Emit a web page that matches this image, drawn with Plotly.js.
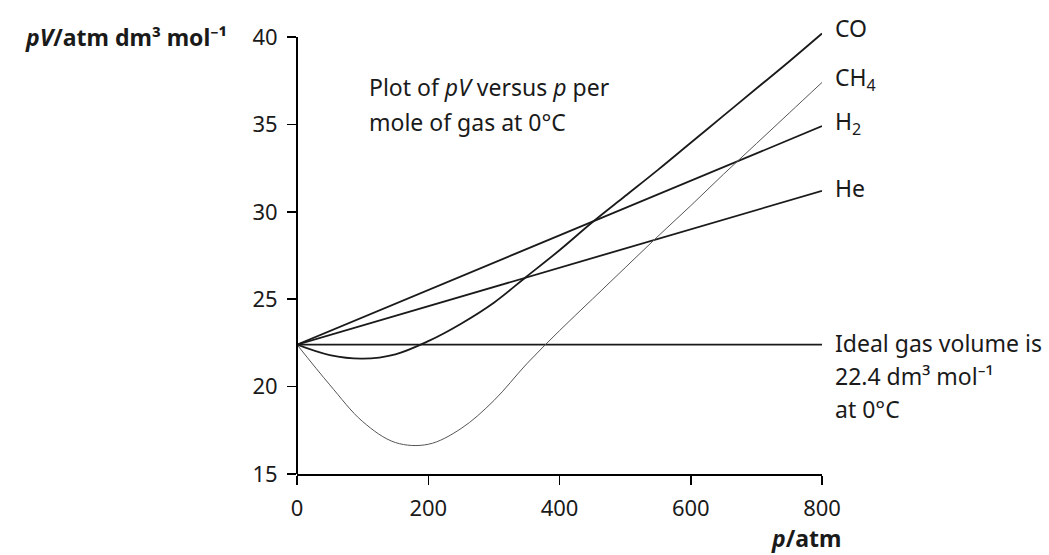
<!DOCTYPE html>
<html>
<head>
<meta charset="utf-8">
<script src="https://cdn.plot.ly/plotly-3.0.1.min.js"></script>
<style>
  html, body { margin: 0; padding: 0; background: #fff; }
  #chart { width: 1049px; height: 555px; }
</style>
</head>
<body>
<div id="chart"></div>
<script>
// Pressure (atm) and pV (atm dm3 mol-1) per mole of gas at 0 °C
const idealP = [0, 800];
const idealPV = [22.4, 22.4];

const heP = [0, 800];
const hePV = [22.4, 31.2];

const h2P = [0, 800];
const h2PV = [22.4, 34.9];

const coP  = [0, 50, 100, 150, 200, 250, 300, 350, 400, 450, 500, 550, 600, 650, 700, 750, 800];
const coPV = [22.4, 21.8, 21.6, 21.85, 22.6, 23.6, 24.8, 26.3, 27.8, 29.4, 30.9, 32.4, 33.95, 35.5, 37.05, 38.6, 40.2];

const ch4P  = [0, 50, 100, 150, 200, 250, 300, 350, 400, 450, 500, 550, 600, 650, 700, 750, 800];
const ch4PV = [22.4, 20.1, 18.0, 16.8, 16.7, 17.6, 19.2, 21.3, 23.2, 25.0, 26.8, 28.6, 30.35, 32.15, 33.9, 35.65, 37.4];

const xTicks = [0, 200, 400, 600, 800];
const yTicks = [15, 20, 25, 30, 35, 40];

const FONT = 'Noto Sans, Open Sans, DejaVu Sans, sans-serif';
const INK = '#1a1a1a';

// plot area geometry (px)
const PLOT_L = 297, PLOT_W = 525, PLOT_T = 30, PLOT_H = 444;

function curve(x, y, width, color, smooth) {
  return {
    x: x, y: y, type: 'scatter', mode: 'lines',
    line: { color: color, width: width, shape: smooth ? 'spline' : 'linear', smoothing: 1 },
    hoverinfo: 'skip', showlegend: false
  };
}

const traces = [
  curve(idealP, idealPV, 1.6, INK, false),
  curve(heP, hePV, 1.8, INK, false),
  curve(h2P, h2PV, 1.8, INK, false),
  curve(coP, coPV, 1.8, INK, true),
  curve(ch4P, ch4PV, 1.0, '#555', true)
];

// Labels at the end of each line
const endLabel = (text, y, yshift) => ({
  x: 800, y: y, xref: 'x', yref: 'y', text: text, showarrow: false,
  xanchor: 'left', yanchor: 'middle', xshift: 11, yshift: yshift,
  font: { family: FONT, size: 23, color: INK }
});

const note = (text, px, py, anchor) => ({
  x: (px - PLOT_L) / PLOT_W, y: 1 - (py - PLOT_T) / PLOT_H, xref: 'paper', yref: 'paper',
  text: text, showarrow: false, xanchor: anchor || 'left', yanchor: 'middle',
  font: { family: FONT, size: 23, color: INK }
});

const annotations = [
  endLabel('CO', coPV[coPV.length - 1], 6),
  endLabel('CH<sub>4</sub>', ch4PV[ch4PV.length - 1], 4),
  endLabel('H<sub>2</sub>', h2PV[h2PV.length - 1], 4),
  endLabel('He', hePV[hePV.length - 1], 3),
  endLabel('Ideal gas volume is', idealPV[1], 2),
  note('22.4 dm³ mol⁻¹', 833, 376),
  note('at 0°C', 833, 409),
  note('Plot of <i>pV</i> versus <i>p</i> per', 367, 87),
  note('mole of gas at 0°C', 367, 122),
  {
    x: (229 - PLOT_L) / PLOT_W, y: 1 - (37 - PLOT_T) / PLOT_H, xref: 'paper', yref: 'paper',
    text: '<b><i>pV</i>/atm dm³ mol⁻¹</b>', showarrow: false,
    xanchor: 'right', yanchor: 'middle',
    font: { family: FONT, size: 23, color: INK }
  },
  {
    x: (769 - PLOT_L) / PLOT_W, y: 0, xref: 'paper', yref: 'paper',
    text: '<b><i>p</i>/atm</b>', showarrow: false,
    xanchor: 'left', yanchor: 'middle', yshift: -64,
    font: { family: FONT, size: 23, color: INK }
  }
];

const tickFont = { family: FONT, size: 22, color: INK };

const layout = {
  width: 1049, height: 555,
  margin: { l: PLOT_L, r: 1049 - PLOT_L - PLOT_W, t: PLOT_T, b: 555 - PLOT_T - PLOT_H },
  paper_bgcolor: '#fff', plot_bgcolor: '#fff',
  xaxis: {
    range: [0, 800], tickvals: xTicks, ticktext: xTicks.map(String),
    showgrid: false, zeroline: false, showline: true, linecolor: '#000', linewidth: 2,
    ticks: 'outside', ticklen: 9, tickwidth: 1.5, tickcolor: '#000',
    tickfont: tickFont, ticklabelstandoff: 5, fixedrange: true
  },
  yaxis: {
    range: [15, 40.4], tickvals: yTicks, ticktext: yTicks.map(String),
    showgrid: false, zeroline: false, showline: false,
    ticks: 'outside', ticklen: 9, tickwidth: 1.5, tickcolor: '#000',
    tickfont: tickFont, ticklabelstandoff: 5, fixedrange: true
  },
  // y axis line stops at the top tick (40)
  shapes: [{
    type: 'line', xref: 'paper', yref: 'y', x0: 0, x1: 0, y0: 15, y1: 40,
    line: { color: '#000', width: 2 }
  }],
  annotations: annotations,
  showlegend: false
};

Plotly.newPlot('chart', traces, layout, { displayModeBar: false, staticPlot: true });
</script>
</body>
</html>
